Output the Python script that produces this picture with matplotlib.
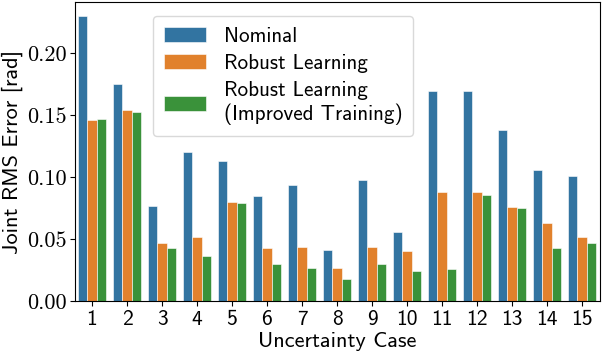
import matplotlib
matplotlib.use("Agg")
import matplotlib.pyplot as plt
import numpy as np

cases = [str(i) for i in range(1, 16)]
nominal = [0.230, 0.175, 0.077, 0.120, 0.113, 0.085, 0.094, 0.041, 0.098, 0.056, 0.170, 0.170, 0.138, 0.106, 0.101]
robust = [0.146, 0.154, 0.047, 0.052, 0.080, 0.043, 0.044, 0.027, 0.044, 0.040, 0.088, 0.088, 0.076, 0.063, 0.052]
robust_improved = [0.147, 0.153, 0.043, 0.036, 0.079, 0.030, 0.027, 0.018, 0.030, 0.024, 0.026, 0.086, 0.075, 0.043, 0.047]
series_names = ["Nominal", "Robust Learning", "Robust Learning\n(Improved Training)"]
colors = ["#3274a1", "#e1812c", "#3a923a"]

fig = plt.figure(figsize=(6.04, 3.56), dpi=100)
ax = fig.add_axes([74.5/604, 1 - 301/356, 525/604, 299/356])

x = np.arange(len(cases))
w = 0.8 / 3
for i, (vals, name, c) in enumerate(zip([nominal, robust, robust_improved], series_names, colors)):
    ax.bar(x + (i - 1) * w, vals, width=w, color=c, label=name, edgecolor="white", linewidth=0.4)

ax.set_xlim(-0.5, len(cases) - 0.5)
ax.set_ylim(0, 0.2415)
ax.set_yticks([0.0, 0.05, 0.10, 0.15, 0.20])
ax.set_yticklabels(["0.00", "0.05", "0.10", "0.15", "0.20"], family="cmr10", fontsize=16)
ax.set_xticks(x)
ax.set_xticklabels(cases, family="cmss10", fontsize=15.5)
ax.set_xlabel("Uncertainty Case", family="cmss10", fontsize=16, labelpad=2)
ax.set_ylabel("Joint RMS Error [rad]", family="cmss10", fontsize=16, labelpad=3)
ax.tick_params(axis="y", length=3.5, pad=2)
ax.tick_params(axis="x", length=3.5, pad=3)

leg = ax.legend(loc="upper left", bbox_to_anchor=(0.1495, 0.953), borderaxespad=0,
                prop={"family": "cmss10", "size": 15.2},
                handlelength=2.0, handleheight=0.7, handletextpad=0.85, labelspacing=0.4, borderpad=0.5,
                framealpha=0.8, fancybox=True, edgecolor="#d0d0d0")

fig.savefig("out.png", dpi=100)
